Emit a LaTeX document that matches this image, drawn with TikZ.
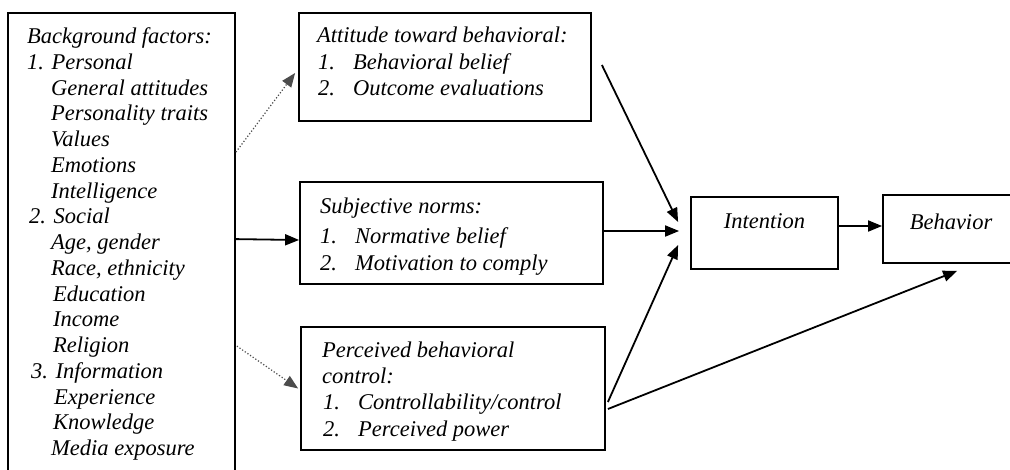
\documentclass[tikz,border=0pt]{standalone}
\usepackage{fontspec}
\setmainfont{Liberation Serif}
\usetikzlibrary{arrows.meta,calc}
\begin{document}
\begin{tikzpicture}[x=1pt,y=-1pt,
  box/.style={draw, line width=1.8pt, inner sep=0pt},
  txt/.style={anchor=base west, inner sep=0pt, font=\fontsize{22.5}{26}\selectfont\itshape},
  arr/.style={line width=1.8pt, -{Triangle[length=14pt,width=11pt]}},
  dotarr/.style={line width=1.2pt, dotted, draw=black!70, -{Triangle[length=14pt,width=11pt]}}]
\useasboundingbox (0,0) rectangle (1010,469);
\fill[white] (0,0) rectangle (1010,469);
\clip (0,0) rectangle (1010,469);

% boxes
\node[box, minimum width=227pt, minimum height=477pt] (bg) at (121.5,251.5) {};
\node[box, minimum width=292pt, minimum height=108pt] (att) at (445,67) {};
\node[box, minimum width=303pt, minimum height=102pt] (sub) at (451.5,233) {};
\node[box, minimum width=304pt, minimum height=123pt] (per) at (453,388.5) {};
\node[box, minimum width=147pt, minimum height=72pt] (int) at (764.5,233) {};
\node[box, minimum width=135pt, minimum height=68pt] (beh) at (950.5,229) {};

% background factors text
\foreach \x/\t [count=\i from 0] in {27/{Background factors:}, 27/{1. Personal},
  51/{General attitudes}, 51/{Personality traits}, 51/{Values}, 51/{Emotions},
  51/{Intelligence}, 29/{2. Social}, 51/{Age, gender}, 51/{Race, ethnicity},
  53/{Education}, 53/{Income}, 53/{Religion}, 31/{3. Information},
  54/{Experience}, 53/{Knowledge}, 51/{Media exposure}}
  \node[txt] (bgt\i) at (\x, 43.5+25.75*\i) {\t};

% attitude
\node[txt] (att0) at (317,42.5) {Attitude toward behavioral:};
\node[txt] (att1) at (318,69) {\makebox[35pt][l]{1.}Behavioral belief};
\node[txt] (att2) at (318,95.5) {\makebox[35pt][l]{2.}Outcome evaluations};

% subjective norms
\node[txt] (sub0) at (320,213) {Subjective norms:};
\node[txt] (sub1) at (320,243) {\makebox[35pt][l]{1.}Normative belief};
\node[txt] (sub2) at (320,270) {\makebox[35pt][l]{2.}Motivation to comply};

% perceived behavioral control
\node[txt] (per0) at (322,357) {Perceived behavioral};
\node[txt] (per1) at (322,383) {control:};
\node[txt] (per2) at (323,409) {\makebox[35pt][l]{1.}Controllability/control};
\node[txt] (per3) at (323,436) {\makebox[35pt][l]{2.}Perceived power};

% intention, behavior
\node[txt, anchor=base] (intt) at (764.5,228) {Intention};
\node[txt, anchor=base] (beht) at (951,229) {Behavior};

% connectors
\draw[dotarr] ($(bg.north east)+(0,140)$) -- ($(att.west)+(-3,6)$);
\draw[arr] ($(bg.north east)+(0,227)$) -- ($(sub.west)+(0,7)$);
\draw[dotarr] ($(bg.north east)+(1,334)$) -- ($(per.west)+(-2,0)$);
\draw[arr] ($(att.east)+(10,-2)$) -- ($(int.west)+(-12,-11)$);
\draw[arr] ($(sub.east)+(0,-2)$) -- ($(int.west)+(-11,-2)$);
\draw[arr] ($(per.east)+(2,13.5)$) -- ($(int.west)+(-12,12)$);
\draw[arr] ($(per.east)+(2,20.5)$) -- ($(beh.south west)+(75,7)$);
\draw[arr] ($(int.east)+(0,-7)$) -- ($(beh.west)+(0,-3)$);
\end{tikzpicture}
\end{document}
